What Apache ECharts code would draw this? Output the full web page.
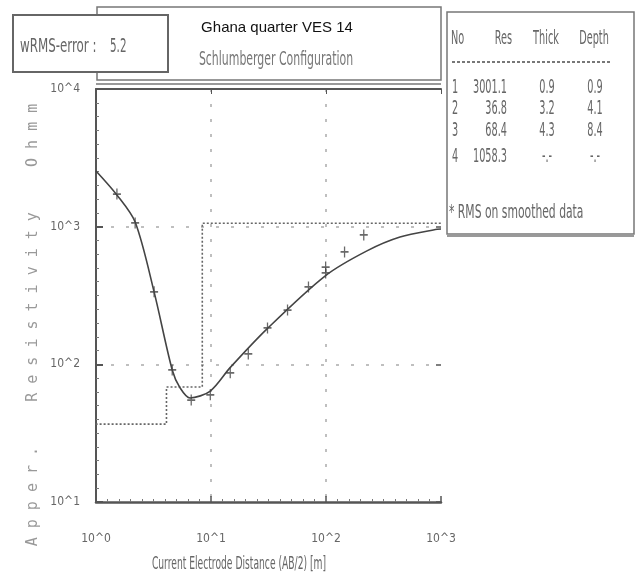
<!DOCTYPE html>
<html>
<head>
<meta charset="utf-8">
<script src="https://cdn.jsdelivr.net/npm/echarts@6/dist/echarts.min.js"></script>
<style>
  html, body { margin: 0; padding: 0; background: #fff; }
  #chart { width: 641px; height: 578px; }
</style>
</head>
<body>
<div id="chart"></div>
<script>
// measured data (AB/2 in m, apparent resistivity in ohm-m)
const abHalf = [1.52, 2.19, 3.2, 4.6, 6.73, 9.86, 14.7, 21.1, 31, 46.3, 70.4, 99.3, 99.3, 145, 213];
const rhoObs = [1726, 1064, 336, 91, 55, 60, 86.7, 119, 184, 248, 365, 509, 461, 655, 871];

// smoothed model response curve
const curveX = [1, 1.52, 2.19, 3.2, 4.6, 5.38, 6.57, 9.86, 14.6, 30.7, 98, 227, 440, 923, 1000];
const curveY = [2540, 1700, 1080, 336, 91, 67.5, 57, 64, 94.2, 181, 438, 667, 841, 958, 962];

// layered model
const layerNo = [1, 2, 3, 4];
const layerRes = [3001.1, 36.8, 68.4, 1058.3];
const layerThick = [0.9, 3.2, 4.3, null];
const layerDepth = [0.9, 4.1, 8.4, null];

const xTickLabels = ["10^0", "10^1", "10^2", "10^3"];
const yTickLabels = ["10^1", "10^2", "10^3", "10^4"];

const titleText = "Ghana quarter VES 14";
const subTitleText = "Schlumberger Configuration";
const rmsLabel = "wRMS-error :";
const rmsValue = "5.2";
const xName = "Current Electrode Distance (AB/2) [m]";
const yName = "Apper.  Resistivity  Ohmm";
const rmsNote = "* RMS on smoothed data";

const dotFont = '"DejaVu Sans Condensed", "DejaVu Sans", sans-serif';
const inkColor = "#444";
const textColor = "#666";

function buildStep() {
  const pts = [[layerDepth[0], layerRes[0]]];
  let prev = layerDepth[0];
  for (let i = 1; i < layerRes.length; i++) {
    const end = layerDepth[i] != null ? layerDepth[i] : 1000;
    pts.push([prev, layerRes[i]]);
    pts.push([end, layerRes[i]]);
    prev = end;
  }
  return pts;
}

// narrow, tall text like the plotter font
function narrowText(text, x, y, align, opts = {}) {
  return {
    type: "text", x, y,
    scaleX: opts.sx || 0.72, scaleY: opts.sy || 1.25,
    style: {
      text, fill: opts.fill || textColor, font: `${opts.size || 15}px ${dotFont}`,
      align, verticalAlign: "middle",
    },
  };
}

function tableTexts() {
  const rowsY = [88, 109, 131, 157];
  const items = [];
  items.push(narrowText("No", 451, 39, "left"));
  items.push(narrowText("Res", 512, 39, "right"));
  items.push(narrowText("Thick", 546, 39, "center"));
  items.push(narrowText("Depth", 594, 39, "center"));
  layerNo.forEach((no, i) => {
    const y = rowsY[i];
    items.push(narrowText(String(no), 455, y, "center"));
    items.push(narrowText(layerRes[i].toFixed(1), 507, y, "right"));
    items.push(narrowText(layerThick[i] != null ? layerThick[i].toFixed(1) : "-.-", 547, y, "center"));
    items.push(narrowText(layerDepth[i] != null ? layerDepth[i].toFixed(1) : "-.-", 595, y, "center"));
  });
  items.push(narrowText(rmsNote, 449, 213, "left", { sx: 0.8 }));
  return items;
}

const chart = echarts.init(document.getElementById("chart"));

const labelStyle = { color: textColor, fontFamily: dotFont, fontSize: 12 };

// plain value axes only used to draw the evenly spaced minor tick dots
const minorAxis = (min, max, position) => ({
  type: "value", min, max, interval: 1, position,
  axisLine: { show: false },
  axisTick: { show: true, inside: true, length: 0 },
  axisLabel: { show: false },
  splitLine: { show: false },
  minorTick: { show: true, splitNumber: 10, length: 3, lineStyle: { color: "#777", width: 1 } },
});

chart.setOption({
  backgroundColor: "#fff",
  animation: false,
  grid: { left: 96, right: 200, top: 89, bottom: 76 },
  xAxis: [
    {
      type: "log", logBase: 10, min: 1, max: 1000,
      axisLine: { lineStyle: { color: "#555", width: 2.5 } },
      axisTick: { inside: true, length: 6, lineStyle: { color: "#555", width: 1.5 } },
      splitLine: {
        show: true, showMinLine: false, showMaxLine: false,
        lineStyle: { type: [3, 12], color: "#aaa", width: 1.5 },
      },
      axisLabel: { ...labelStyle, margin: 31, formatter: (v, i) => xTickLabels[i] },
    },
    {
      type: "log", logBase: 10, min: 1, max: 1000, position: "top",
      axisLine: { lineStyle: { color: "#555", width: 2 } },
      axisTick: { inside: true, length: 5, lineStyle: { color: "#555" } },
      axisLabel: { show: false },
      splitLine: { show: false },
    },
    minorAxis(0, 3, "bottom"),
  ],
  yAxis: [
    {
      type: "log", logBase: 10, min: 10, max: 10000,
      axisLine: { lineStyle: { color: "#555", width: 2 } },
      axisTick: { inside: true, length: 7, lineStyle: { color: "#555", width: 2 } },
      splitLine: {
        show: true, showMinLine: false, showMaxLine: false,
        lineStyle: { type: [3, 12], color: "#aaa", width: 1.5 },
      },
      axisLabel: { ...labelStyle, margin: 16, formatter: (v, i) => yTickLabels[i] },
    },
    {
      type: "log", logBase: 10, min: 10, max: 10000, position: "right",
      axisLine: { show: false },
      axisTick: { inside: true, length: 5, lineStyle: { color: "#555", width: 1.5 } },
      axisLabel: { show: false },
      splitLine: { show: false },
    },
    minorAxis(1, 4, "left"),
  ],
  series: [
    {
      name: "model",
      type: "line",
      clip: true,
      symbol: "none",
      lineStyle: { color: "#666", width: 1.6, type: [2, 2] },
      data: buildStep(),
      z: 2,
    },
    {
      name: "curve",
      type: "line",
      smooth: 0.3,
      symbol: "none",
      lineStyle: { color: inkColor, width: 1.6 },
      data: curveX.map((x, i) => [x, curveY[i]]),
      z: 3,
    },
    {
      name: "observed",
      type: "scatter",
      symbol: "path://M0,6L12,6M6,0L6,12",
      symbolSize: [8, 11],
      itemStyle: { color: "rgba(0,0,0,0)", borderColor: inkColor, borderWidth: 1.5 },
      data: abHalf.map((x, i) => [x, rhoObs[i]]),
      z: 4,
    },
  ],
  graphic: [
    // title box
    { type: "rect", shape: { x: 97, y: 7, width: 344, height: 73 }, style: { fill: "#fff", stroke: "#777", lineWidth: 1.5 }, z: -1 },
    { type: "line", shape: { x1: 96, y1: 84, x2: 441, y2: 84 }, style: { stroke: "#777", lineWidth: 1.5 } },
    { type: "text", x: 277, y: 28, style: { text: titleText, fill: "#111", font: "15px Arial, 'Liberation Sans', sans-serif", align: "center", verticalAlign: "middle" } },
    narrowText(subTitleText, 276, 60, "center", { fill: "#777", sx: 0.81 }),
    // wRMS box
    { type: "rect", shape: { x: 13, y: 15, width: 155, height: 57 }, style: { fill: "#fff", stroke: "#666", lineWidth: 2 } },
    narrowText(rmsLabel, 20, 47, "left", { sx: 0.88 }),
    narrowText(rmsValue, 110, 47, "left", { size: 16 }),
    // table box
    { type: "rect", shape: { x: 447, y: 12, width: 187, height: 222 }, style: { fill: "none", stroke: "#777", lineWidth: 1.5 } },
    { type: "line", shape: { x1: 447, y1: 236, x2: 634, y2: 236 }, style: { stroke: "#777", lineWidth: 1.5 } },
    { type: "line", shape: { x1: 452, y1: 62, x2: 612, y2: 62 }, style: { stroke: "#777", lineWidth: 2, lineDash: [3, 2] } },
    ...tableTexts(),
    // axis titles
    narrowText(xName, 239, 565, "center", { sx: 0.68, sy: 1.15 }),
    {
      type: "text", x: 33, y: 325, rotation: Math.PI / 2,
      style: { text: yName.split("").join(" "), fill: "#999", font: "15px 'DejaVu Sans Mono', monospace", align: "center", verticalAlign: "middle" },
    },
  ],
});
</script>
</body>
</html>
